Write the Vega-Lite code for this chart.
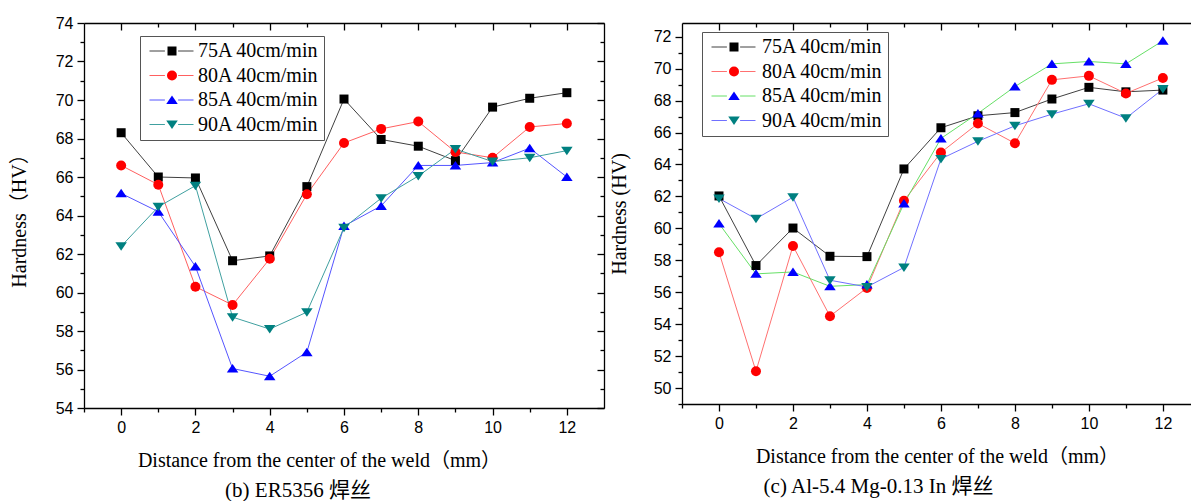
{
"$schema": "https://vega.github.io/schema/vega-lite/v6.json",
"padding": {"left": 9, "top": 15, "right": 0, "bottom": 0},
"background": "white",
"spacing": 78,
"bounds": "flush",
"datasets": {
"left": [
{"x":0,"v":68.3,"series":"75A 40cm/min","curve":"75A 40cm/min"},
{"x":1,"v":66.0,"series":"75A 40cm/min","curve":"75A 40cm/min"},
{"x":2,"v":65.95,"series":"75A 40cm/min","curve":"75A 40cm/min"},
{"x":3,"v":61.65,"series":"75A 40cm/min","curve":"75A 40cm/min"},
{"x":4,"v":61.9,"series":"75A 40cm/min","curve":"75A 40cm/min"},
{"x":5,"v":65.5,"series":"75A 40cm/min","curve":"75A 40cm/min"},
{"x":6,"v":70.05,"series":"75A 40cm/min","curve":"75A 40cm/min"},
{"x":7,"v":67.95,"series":"75A 40cm/min","curve":"75A 40cm/min"},
{"x":8,"v":67.6,"series":"75A 40cm/min","curve":"75A 40cm/min"},
{"x":9,"v":66.85,"series":"75A 40cm/min","curve":"75A 40cm/min"},
{"x":10,"v":69.63,"series":"75A 40cm/min","curve":"75A 40cm/min"},
{"x":11,"v":70.09,"series":"75A 40cm/min","curve":"75A 40cm/min"},
{"x":12,"v":70.38,"series":"75A 40cm/min","curve":"75A 40cm/min"},
{"x":0,"v":66.6,"series":"80A 40cm/min","curve":"80A 40cm/min"},
{"x":1,"v":65.6,"series":"80A 40cm/min","curve":"80A 40cm/min"},
{"x":2,"v":60.3,"series":"80A 40cm/min","curve":"80A 40cm/min"},
{"x":3,"v":59.35,"series":"80A 40cm/min","curve":"80A 40cm/min"},
{"x":4,"v":61.75,"series":"80A 40cm/min","curve":"80A 40cm/min"},
{"x":5,"v":65.1,"series":"80A 40cm/min","curve":"80A 40cm/min"},
{"x":6,"v":67.77,"series":"80A 40cm/min","curve":"80A 40cm/min"},
{"x":7,"v":68.5,"series":"80A 40cm/min","curve":"80A 40cm/min"},
{"x":8,"v":68.88,"series":"80A 40cm/min","curve":"80A 40cm/min"},
{"x":9,"v":67.3,"series":"80A 40cm/min","curve":"80A 40cm/min"},
{"x":10,"v":67.0,"series":"80A 40cm/min","curve":"80A 40cm/min"},
{"x":11,"v":68.6,"series":"80A 40cm/min","curve":"80A 40cm/min"},
{"x":12,"v":68.78,"series":"80A 40cm/min","curve":"80A 40cm/min"},
{"x":0,"v":65.15,"series":"85A 40cm/min","curve":"85A 40cm/min"},
{"x":1,"v":64.2,"series":"85A 40cm/min","curve":"85A 40cm/min"},
{"x":2,"v":61.35,"series":"85A 40cm/min","curve":"85A 40cm/min"},
{"x":3,"v":56.05,"series":"85A 40cm/min","curve":"85A 40cm/min"},
{"x":4,"v":55.65,"series":"85A 40cm/min","curve":"85A 40cm/min"},
{"x":5,"v":56.9,"series":"85A 40cm/min","curve":"85A 40cm/min"},
{"x":6,"v":63.45,"series":"85A 40cm/min","curve":"85A 40cm/min"},
{"x":7,"v":64.5,"series":"85A 40cm/min","curve":"85A 40cm/min"},
{"x":8,"v":66.6,"series":"85A 40cm/min","curve":"85A 40cm/min"},
{"x":9,"v":66.6,"series":"85A 40cm/min","curve":"85A 40cm/min"},
{"x":10,"v":66.75,"series":"85A 40cm/min","curve":"85A 40cm/min"},
{"x":11,"v":67.5,"series":"85A 40cm/min","curve":"85A 40cm/min"},
{"x":12,"v":66.0,"series":"85A 40cm/min","curve":"85A 40cm/min"},
{"x":0,"v":62.4,"series":"90A 40cm/min","curve":"90A 40cm/min"},
{"x":1,"v":64.45,"series":"90A 40cm/min","curve":"90A 40cm/min"},
{"x":2,"v":65.55,"series":"90A 40cm/min","curve":"90A 40cm/min"},
{"x":3,"v":58.72,"series":"90A 40cm/min","curve":"90A 40cm/min"},
{"x":4,"v":58.1,"series":"90A 40cm/min","curve":"90A 40cm/min"},
{"x":5,"v":58.98,"series":"90A 40cm/min","curve":"90A 40cm/min"},
{"x":6,"v":63.37,"series":"90A 40cm/min","curve":"90A 40cm/min"},
{"x":7,"v":64.9,"series":"90A 40cm/min","curve":"90A 40cm/min"},
{"x":8,"v":66.05,"series":"90A 40cm/min","curve":"90A 40cm/min"},
{"x":9,"v":67.45,"series":"90A 40cm/min","curve":"90A 40cm/min"},
{"x":10,"v":66.8,"series":"90A 40cm/min","curve":"90A 40cm/min"},
{"x":11,"v":67.0,"series":"90A 40cm/min","curve":"90A 40cm/min"},
{"x":12,"v":67.37,"series":"90A 40cm/min","curve":"90A 40cm/min"}
],
"right": [
{"x":0,"v":62.03,"series":"75A 40cm/min","curve":"75A 40cm/min"},
{"x":1,"v":57.67,"series":"75A 40cm/min","curve":"75A 40cm/min"},
{"x":2,"v":60.02,"series":"75A 40cm/min","curve":"75A 40cm/min"},
{"x":3,"v":58.25,"series":"75A 40cm/min","curve":"75A 40cm/min"},
{"x":4,"v":58.23,"series":"75A 40cm/min","curve":"75A 40cm/min"},
{"x":5,"v":63.72,"series":"75A 40cm/min","curve":"75A 40cm/min"},
{"x":6,"v":66.3,"series":"75A 40cm/min","curve":"75A 40cm/min"},
{"x":7,"v":67.05,"series":"75A 40cm/min","curve":"75A 40cm/min"},
{"x":8,"v":67.25,"series":"75A 40cm/min","curve":"75A 40cm/min"},
{"x":9,"v":68.1,"series":"75A 40cm/min","curve":"75A 40cm/min"},
{"x":10,"v":68.83,"series":"75A 40cm/min","curve":"75A 40cm/min"},
{"x":11,"v":68.55,"series":"75A 40cm/min","curve":"75A 40cm/min"},
{"x":12,"v":68.66,"series":"75A 40cm/min","curve":"75A 40cm/min"},
{"x":0,"v":58.5,"series":"80A 40cm/min","curve":"80A 40cm/min"},
{"x":1,"v":51.05,"series":"80A 40cm/min","curve":"80A 40cm/min"},
{"x":2,"v":58.9,"series":"80A 40cm/min","curve":"80A 40cm/min"},
{"x":3,"v":54.5,"series":"80A 40cm/min","curve":"80A 40cm/min"},
{"x":4,"v":56.27,"series":"80A 40cm/min","curve":"80A 40cm/min"},
{"x":5,"v":61.73,"series":"80A 40cm/min","curve":"80A 40cm/min"},
{"x":6,"v":64.75,"series":"80A 40cm/min","curve":"80A 40cm/min"},
{"x":7,"v":66.57,"series":"80A 40cm/min","curve":"80A 40cm/min"},
{"x":8,"v":65.33,"series":"80A 40cm/min","curve":"80A 40cm/min"},
{"x":9,"v":69.3,"series":"80A 40cm/min","curve":"80A 40cm/min"},
{"x":10,"v":69.55,"series":"80A 40cm/min","curve":"80A 40cm/min"},
{"x":11,"v":68.45,"series":"80A 40cm/min","curve":"80A 40cm/min"},
{"x":12,"v":69.42,"series":"80A 40cm/min","curve":"80A 40cm/min"},
{"x":0,"v":60.3,"series":"85A 40cm/min","curve":"85A 40cm/min"},
{"x":1,"v":57.15,"series":"85A 40cm/min","curve":"85A 40cm/min"},
{"x":2,"v":57.27,"series":"85A 40cm/min","curve":"85A 40cm/min"},
{"x":3,"v":56.37,"series":"85A 40cm/min","curve":"85A 40cm/min"},
{"x":4,"v":56.48,"series":"85A 40cm/min","curve":"85A 40cm/min"},
{"x":5,"v":61.55,"series":"85A 40cm/min","curve":"85A 40cm/min"},
{"x":6,"v":65.63,"series":"85A 40cm/min","curve":"85A 40cm/min"},
{"x":7,"v":67.2,"series":"85A 40cm/min","curve":"85A 40cm/min"},
{"x":8,"v":68.88,"series":"85A 40cm/min","curve":"85A 40cm/min"},
{"x":9,"v":70.3,"series":"85A 40cm/min","curve":"85A 40cm/min"},
{"x":10,"v":70.45,"series":"85A 40cm/min","curve":"85A 40cm/min"},
{"x":11,"v":70.3,"series":"85A 40cm/min","curve":"85A 40cm/min"},
{"x":12,"v":71.75,"series":"85A 40cm/min","curve":"85A 40cm/min"},
{"x":0,"v":61.87,"series":"90A 40cm/min","curve":"90A 40cm/min"},
{"x":1,"v":60.6,"series":"90A 40cm/min","curve":"90A 40cm/min"},
{"x":2,"v":61.95,"series":"90A 40cm/min","curve":"90A 40cm/min"},
{"x":3,"v":56.75,"series":"90A 40cm/min","curve":"90A 40cm/min"},
{"x":4,"v":56.33,"series":"90A 40cm/min","curve":"90A 40cm/min"},
{"x":5,"v":57.55,"series":"90A 40cm/min","curve":"90A 40cm/min"},
{"x":6,"v":64.35,"series":"90A 40cm/min","curve":"90A 40cm/min"},
{"x":7,"v":65.45,"series":"90A 40cm/min","curve":"90A 40cm/min"},
{"x":8,"v":66.42,"series":"90A 40cm/min","curve":"90A 40cm/min"},
{"x":9,"v":67.15,"series":"90A 40cm/min","curve":"90A 40cm/min"},
{"x":10,"v":67.8,"series":"90A 40cm/min","curve":"90A 40cm/min"},
{"x":11,"v":66.9,"series":"90A 40cm/min","curve":"90A 40cm/min"},
{"x":12,"v":68.72,"series":"90A 40cm/min","curve":"90A 40cm/min"}
]
},
"hconcat": [
{
"width": 520, "height": 385,
"data": {"name": "left"},
"title": {"text": "(b) ER5356 焊丝", "orient": "bottom", "anchor": "middle", "dx": -46, "offset": 10, "font": "Liberation Serif, Noto Sans CJK SC", "fontSize": 21, "fontWeight": "normal", "color": "black"},
"resolve": {"axis": {"x": "independent", "y": "independent"}},
"layer": [
{"mark": {"type": "line", "strokeWidth": 1},
 "encoding": {
  "x": {"field": "x", "type": "quantitative", "scale": {"domain": [-1, 13], "nice": false, "zero": false},
        "axis": {"orient": "bottom", "values": [0,2,4,6,8,10,12], "tickSize": 7, "labelPadding": 4, "title": "Distance from the center of the weld（mm）", "titleX": 235, "titlePadding": 15}},
  "y": {"field": "v", "type": "quantitative", "scale": {"domain": [54, 74], "nice": false, "zero": false},
        "axis": {"orient": "left", "values": [54,56,58,60,62,64,66,68,70,72,74], "tickSize": 7, "labelPadding": 4, "title": "Hardness（HV）", "titlePadding": 26}},
  "stroke": {"field": "curve", "type": "nominal", "scale": {"range": ["#404040", "#ff6060", "#5555ff", "#40a0a0"]},
        "legend": {"title": null, "orient": "none", "legendX": 56, "legendY": 13, "padding": 5, "symbolType": "M-4,0H-1.2M1.2,0H4", "symbolSize": 121, "symbolStrokeWidth": 1, "symbolOffset": 16.5, "labelOffset": 15, "labelOpacity": 0, "rowPadding": 4.5}}
 }},
{"mark": {"type": "point", "filled": true, "size": 100, "opacity": 1, "strokeWidth": 0},
 "encoding": {
  "x": {"field": "x", "type": "quantitative", "scale": {"domain": [-1, 13], "nice": false, "zero": false},
        "axis": {"orient": "bottom", "values": [-1,1,3,5,7,9,11], "tickSize": 4, "labels": false, "domain": false, "title": null}},
  "y": {"field": "v", "type": "quantitative", "scale": {"domain": [54, 74], "nice": false, "zero": false},
        "axis": {"orient": "left", "values": [55,57,59,61,63,65,67,69,71,73], "tickSize": 4, "labels": false, "domain": false, "title": null}},
  "color": {"field": "series", "type": "nominal", "scale": {"range": ["#000000", "#ff0000", "#0000ff", "#008080"]},
        "legend": {"title": null, "orient": "none", "legendX": 56, "legendY": 13, "padding": 5, "strokeColor": "#555555", "symbolSize": 100, "symbolStrokeWidth": 0, "symbolOffset": 17, "labelOffset": 16, "rowPadding": 4.5}},
  "shape": {"field": "series", "type": "nominal", "scale": {"range": ["M-0.9,-0.9H0.9V0.9H-0.9Z", "circle", "M0,-0.9L1.15,0.8L-1.15,0.8Z", "M0,0.9L1.15,-0.8L-1.15,-0.8Z"]},
        "legend": {"title": null, "orient": "none", "legendX": 56, "legendY": 13, "padding": 5, "strokeColor": "#555555", "symbolSize": 100, "symbolStrokeWidth": 0, "symbolOffset": 17, "labelOffset": 16, "rowPadding": 4.5}}
 }},
{"mark": {"type": "point", "opacity": 0},
 "encoding": {
  "x": {"field": "x", "type": "quantitative", "scale": {"domain": [-1, 13], "nice": false, "zero": false},
        "axis": {"orient": "top", "values": [0,2,4,6,8,10,12], "tickSize": -7, "labels": false, "title": null}},
  "y": {"field": "v", "type": "quantitative", "scale": {"domain": [54, 74], "nice": false, "zero": false},
        "axis": {"orient": "right", "values": [54,56,58,60,62,64,66,68,70,72,74], "tickSize": -7, "labels": false, "title": null}}
 }},
{"mark": {"type": "point", "opacity": 0},
 "encoding": {
  "x": {"field": "x", "type": "quantitative", "scale": {"domain": [-1, 13], "nice": false, "zero": false},
        "axis": {"orient": "top", "values": [1,3,5,7,9,11], "tickSize": -4, "labels": false, "domain": false, "title": null}},
  "y": {"field": "v", "type": "quantitative", "scale": {"domain": [54, 74], "nice": false, "zero": false},
        "axis": {"orient": "right", "values": [55,57,59,61,63,65,67,69,71,73], "tickSize": -4, "labels": false, "domain": false, "title": null}}
 }}
]
},
{
"width": 509, "height": 381,
"data": {"name": "right"},
"title": {"text": "(c) Al-5.4 Mg-0.13 In 焊丝", "orient": "bottom", "anchor": "middle", "dx": -58, "offset": 10, "font": "Liberation Serif, Noto Sans CJK SC", "fontSize": 21, "fontWeight": "normal", "color": "black"},
"resolve": {"axis": {"x": "independent", "y": "independent"}},
"layer": [
{"mark": {"type": "line", "strokeWidth": 1},
 "encoding": {
  "x": {"field": "x", "type": "quantitative", "scale": {"domain": [-1, 12.76], "nice": false, "zero": false},
        "axis": {"orient": "bottom", "values": [0,2,4,6,8,10,12], "tickSize": 7, "labelPadding": 4, "title": "Distance from the center of the weld（mm）", "titleX": 255, "titlePadding": 15}},
  "y": {"field": "v", "type": "quantitative", "scale": {"domain": [49, 72.86], "nice": false, "zero": false},
        "axis": {"orient": "left", "values": [50,52,54,56,58,60,62,64,66,68,70,72], "tickSize": 7, "labelPadding": 4, "title": "Hardness (HV)", "titlePadding": 24}},
  "stroke": {"field": "curve", "type": "nominal", "scale": {"range": ["#404040", "#ff7070", "#66e066", "#7070ff"]},
        "legend": {"title": null, "orient": "none", "legendX": 20, "legendY": 9, "padding": 5, "symbolType": "M-4,0H-1.2M1.2,0H4", "symbolSize": 121, "symbolStrokeWidth": 1, "symbolOffset": 16.5, "labelOffset": 17, "labelOpacity": 0, "rowPadding": 4.5}}
 }},
{"mark": {"type": "point", "filled": true, "size": 100, "opacity": 1, "strokeWidth": 0},
 "encoding": {
  "x": {"field": "x", "type": "quantitative", "scale": {"domain": [-1, 12.76], "nice": false, "zero": false},
        "axis": {"orient": "bottom", "values": [-1,1,3,5,7,9,11], "tickSize": 4, "labels": false, "domain": false, "title": null}},
  "y": {"field": "v", "type": "quantitative", "scale": {"domain": [49, 72.86], "nice": false, "zero": false},
        "axis": {"orient": "left", "values": [49,51,53,55,57,59,61,63,65,67,69,71], "tickSize": 4, "labels": false, "domain": false, "title": null}},
  "color": {"field": "series", "type": "nominal", "scale": {"range": ["#000000", "#ff0000", "#0000ff", "#008080"]},
        "legend": {"title": null, "orient": "none", "legendX": 20, "legendY": 9, "padding": 5, "strokeColor": "#555555", "symbolSize": 100, "symbolStrokeWidth": 0, "symbolOffset": 17, "labelOffset": 18, "rowPadding": 4.5}},
  "shape": {"field": "series", "type": "nominal", "scale": {"range": ["M-0.9,-0.9H0.9V0.9H-0.9Z", "circle", "M0,-0.9L1.15,0.8L-1.15,0.8Z", "M0,0.9L1.15,-0.8L-1.15,-0.8Z"]},
        "legend": {"title": null, "orient": "none", "legendX": 20, "legendY": 9, "padding": 5, "strokeColor": "#555555", "symbolSize": 100, "symbolStrokeWidth": 0, "symbolOffset": 17, "labelOffset": 18, "rowPadding": 4.5}}
 }},
{"mark": {"type": "point", "opacity": 0},
 "encoding": {
  "x": {"field": "x", "type": "quantitative", "scale": {"domain": [-1, 12.76], "nice": false, "zero": false},
        "axis": {"orient": "top", "values": [0,2,4,6,8,10,12], "tickSize": -7, "labels": false, "title": null}},
  "y": {"field": "v", "type": "quantitative", "scale": {"domain": [49, 72.86], "nice": false, "zero": false}, "axis": null}
 }},
{"mark": {"type": "point", "opacity": 0},
 "encoding": {
  "x": {"field": "x", "type": "quantitative", "scale": {"domain": [-1, 12.76], "nice": false, "zero": false},
        "axis": {"orient": "top", "values": [1,3,5,7,9,11], "tickSize": -4, "labels": false, "domain": false, "title": null}},
  "y": {"field": "v", "type": "quantitative", "scale": {"domain": [49, 72.86], "nice": false, "zero": false}, "axis": null}
 }}
]
}
],
"resolve": {"scale": {"color": "independent", "shape": "independent", "stroke": "independent"}},
"config": {
 "view": {"stroke": null},
 "axis": {"grid": false, "domainColor": "black", "domainWidth": 1.3, "tickColor": "black", "tickWidth": 1.3, "labelFont": "Liberation Sans", "labelFontSize": 16, "labelColor": "black", "titleFont": "Liberation Serif, Noto Sans CJK SC", "titleFontSize": 20, "titleFontWeight": "normal", "titleColor": "black"},
 "legend": {"labelFont": "Liberation Serif", "labelFontSize": 20, "labelColor": "black", "labelLimit": 0}
}
}
